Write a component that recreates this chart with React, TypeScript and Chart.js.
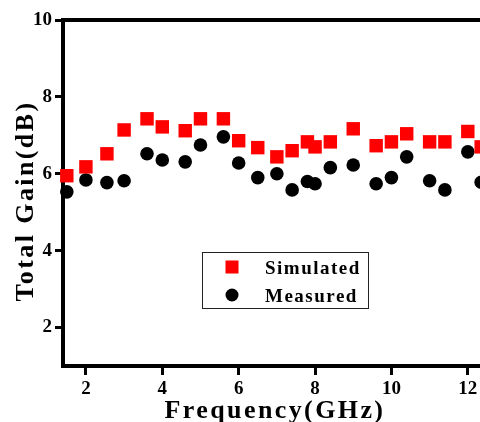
import React, { useEffect, useRef } from "react";
import { Chart, registerables } from "chart.js";

Chart.register(...registerables);

const frequencies = [1.5, 2.0, 2.55, 3.0, 3.6, 4.0, 4.6, 5.0, 5.6, 6.0, 6.5, 7.0, 7.4, 7.8, 8.0, 8.4, 9.0, 9.6, 10.0, 10.4, 11.0, 11.4, 12.0, 12.35];
const simulated = [5.95, 6.18, 6.52, 7.14, 7.43, 7.22, 7.12, 7.43, 7.43, 6.86, 6.68, 6.44, 6.6, 6.83, 6.7, 6.83, 7.17, 6.73, 6.83, 7.04, 6.83, 6.83, 7.1, 6.7];
const measured = [5.53, 5.84, 5.77, 5.82, 6.52, 6.36, 6.31, 6.75, 6.96, 6.28, 5.9, 6.0, 5.58, 5.8, 5.74, 6.16, 6.23, 5.74, 5.9, 6.44, 5.82, 5.58, 6.57, 5.78];
const xTicks = [2, 4, 6, 8, 10, 12];
const yTicks = [2, 4, 6, 8, 10];
const xTitle = "Frequency(GHz)";
const yTitle = "Total Gain(dB)";

const FONT = '"Liberation Serif", "Times New Roman", serif';

const overlayPlugin = {
  id: "overlay",
  afterDraw(chart: any) {
    const ctx = chart.ctx as CanvasRenderingContext2D;
    const { left, right, top } = chart.chartArea;
    ctx.save();
    // top frame line
    ctx.strokeStyle = "#000";
    ctx.lineWidth = 4;
    ctx.beginPath();
    ctx.moveTo(left - 2, top);
    ctx.lineTo(right, top);
    ctx.stroke();

    // legend
    const ds = chart.data.datasets;
    ctx.lineWidth = 1;
    ctx.strokeStyle = "#222";
    ctx.strokeRect(202.5, 252.5, 166, 56);
    ctx.fillStyle = "#ff0000";
    ctx.fillRect(225.5, 260.5, 13, 13);
    ctx.fillStyle = "#000";
    ctx.beginPath();
    ctx.arc(232, 295, 6.5, 0, Math.PI * 2);
    ctx.fill();
    ctx.font = `bold 19px ${FONT}`;
    (ctx as any).letterSpacing = "1.5px";
    ctx.textAlign = "left";
    ctx.textBaseline = "alphabetic";
    ctx.fillText(ds[0].label, 265, 274);
    ctx.fillText(ds[1].label, 265, 302);

    // axis titles
    ctx.font = `bold 26px ${FONT}`;
    (ctx as any).letterSpacing = "2.4px";
    ctx.textAlign = "center";
    ctx.fillText(xTitle, 275, 418);
    ctx.translate(33, 201);
    ctx.rotate(-Math.PI / 2);
    ctx.fillText(yTitle, 0, 0);
    ctx.restore();
  },
};

export default function App() {
  const ref = useRef<HTMLCanvasElement>(null);
  useEffect(() => {
    if (!ref.current) return;
    const chart = new Chart(ref.current, {
      type: "scatter",
      data: {
        datasets: [
          {
            label: "Simulated",
            data: frequencies.map((f, i) => ({ x: f, y: simulated[i] })),
            pointStyle: "rect",
            pointRadius: 9.5,
            pointHoverRadius: 9.5,
            backgroundColor: "#ff0000",
            borderColor: "#ff0000",
            borderWidth: 0,
            showLine: false,
            clip: false as any,
          },
          {
            label: "Measured",
            data: frequencies.map((f, i) => ({ x: f, y: measured[i] })),
            pointStyle: "circle",
            pointRadius: 6.8,
            pointHoverRadius: 6.8,
            backgroundColor: "#000",
            borderColor: "#000",
            borderWidth: 0,
            showLine: false,
            clip: false as any,
          },
        ],
      },
      options: {
        responsive: false,
        animation: false,
        devicePixelRatio: 1,
        layout: { padding: { top: 20, right: 10, left: 0, bottom: 0 } },
        plugins: { legend: { display: false }, tooltip: { enabled: false } },
        scales: {
          x: {
            type: "linear",
            min: 1.4,
            max: 13,
            afterBuildTicks: (s: any) => {
              s.ticks = xTicks.map((v) => ({ value: v }));
            },
            afterFit: (s: any) => {
              s.height = 56;
            },
            grid: { display: true, drawOnChartArea: false, drawTicks: true, tickLength: 9, lineWidth: 3, color: "#000" },
            border: { display: true, width: 4, color: "#000" },
            ticks: { color: "#000", padding: 3, font: { family: FONT, size: 19, weight: "bold" }, maxRotation: 0, autoSkip: false },
          },
          y: {
            type: "linear",
            min: 1,
            max: 10,
            afterBuildTicks: (s: any) => {
              s.ticks = yTicks.map((v) => ({ value: v }));
            },
            afterFit: (s: any) => {
              s.width = 63;
            },
            grid: { display: true, drawOnChartArea: false, drawTicks: true, tickLength: 8, lineWidth: 3, color: "#000" },
            border: { display: true, width: 4, color: "#000" },
            ticks: { color: "#000", padding: 3, font: { family: FONT, size: 19, weight: "bold" }, autoSkip: false },
          },
        },
      },
      plugins: [overlayPlugin],
    });
    return () => chart.destroy();
  }, []);
  return (
    <div style={{ position: "absolute", left: 0, top: 0, width: 480, height: 422, overflow: "hidden", background: "#fff" }}>
      <canvas ref={ref} width={516} height={422} style={{ display: "block" }} />
    </div>
  );
}
